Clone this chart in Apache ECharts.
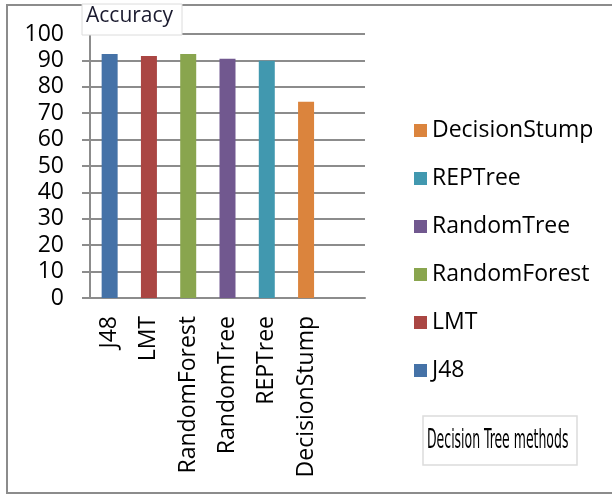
<!DOCTYPE html>
<html>
<head>
    <meta charset="utf-8">
    <title>Accuracy</title>
    <script src="https://cdn.jsdelivr.net/npm/echarts@6/dist/echarts.min.js"></script>
    <style>
        html, body { margin: 0; padding: 0; background: #fff; }
    </style>
</head>
<body>
<div id="chart1" style="width:612px;height:495px;"></div>
<script type="text/javascript">
    // 数据
    var methods = ['J48', 'LMT', 'RandomForest', 'RandomTree', 'REPTree', 'DecisionStump'];
    var accuracy = [92.4, 91.7, 92.4, 90.6, 89.9, 74.3];
    var categories = ['J48', 'LMT', 'RandomForest', 'RandomTree', 'REPTree', 'DecisionStump', ''];
    var yTicks = [0, 10, 20, 30, 40, 50, 60, 70, 80, 90, 100];
    var colors = ['#4572a7', '#aa4643', '#89a54e', '#71588f', '#4198af', '#db843d'];

    var myChart1 = echarts.init(document.getElementById('chart1'));

    var font = '"Open Sans", "Noto Sans", sans-serif';
    var gridColor = '#8c8c8c';

    // one series per method, only its own slot filled
    var series = methods.map(function (name, i) {
        var data = categories.map(function (c, j) {
            return j === i ? accuracy[i] : '-';
        });
        return {
            name: name,
            type: 'bar',
            data: data,
            barWidth: 16,
            barGap: '-100%',
            itemStyle: { color: colors[i] },
            z: 3
        };
    });

    myChart1.setOption({
        animation: false,
        backgroundColor: '#fff',
        grid: { left: 90, right: 247, top: 34, bottom: 197 },
        legend: {
            orient: 'vertical',
            left: 409,
            top: 114,
            itemWidth: 13,
            itemHeight: 13,
            itemGap: 25,
            icon: 'rect',
            data: methods.slice().reverse(),
            textStyle: { fontFamily: font, fontSize: 23, color: '#000' }
        },
        xAxis: {
            type: 'category',
            data: categories,
            axisLine: { lineStyle: { color: gridColor, width: 2 } },
            axisTick: { length: 8, lineStyle: { color: gridColor, width: 2 } },
            axisLabel: {
                rotate: 90,
                margin: 18,
                interval: 0,
                fontFamily: font,
                fontSize: 23,
                color: '#000'
            }
        },
        yAxis: {
            type: 'value',
            min: 0,
            max: 100,
            interval: 10,
            axisLine: { show: true, lineStyle: { color: gridColor, width: 2 } },
            axisTick: { show: true, length: 8, lineStyle: { color: gridColor, width: 2 } },
            splitLine: { lineStyle: { color: gridColor, width: 2 } },
            axisLabel: {
                margin: 26,
                fontFamily: font,
                fontSize: 23,
                color: '#000',
                formatter: function (v) { return yTicks.indexOf(v) >= 0 ? String(v) : ''; }
            }
        },
        graphic: [
            {
                type: 'rect',
                z: -10,
                shape: { x: 7, y: 5, width: 700, height: 488 },
                style: { fill: '#fff', stroke: '#8c8c8c', lineWidth: 2 }
            },
            {
                type: 'rect',
                z: 100,
                shape: { x: 82, y: 4, width: 100, height: 31 },
                style: { fill: '#fff', stroke: '#dcdcdc', lineWidth: 1 }
            },
            {
                type: 'text',
                z: 101,
                left: 86,
                top: 6,
                style: { text: 'Accuracy', fontFamily: font, fontSize: 21, fill: '#1a1a2e' }
            },
            {
                type: 'rect',
                z: 100,
                shape: { x: 423, y: 416, width: 154, height: 49 },
                style: { fill: '#fff', stroke: '#dcdcdc', lineWidth: 1.5 }
            },
            {
                type: 'text',
                z: 101,
                x: 427,
                y: 441,
                scaleX: 0.66,
                scaleY: 1.3,
                style: {
                    text: 'Decision Tree methods',
                    fontFamily: '"Liberation Sans Narrow", "DejaVu Sans Condensed", sans-serif',
                    fontSize: 21,
                    fill: '#000',
                    verticalAlign: 'middle'
                }
            }
        ],
        series: series
    });
</script>
</body>
</html>
